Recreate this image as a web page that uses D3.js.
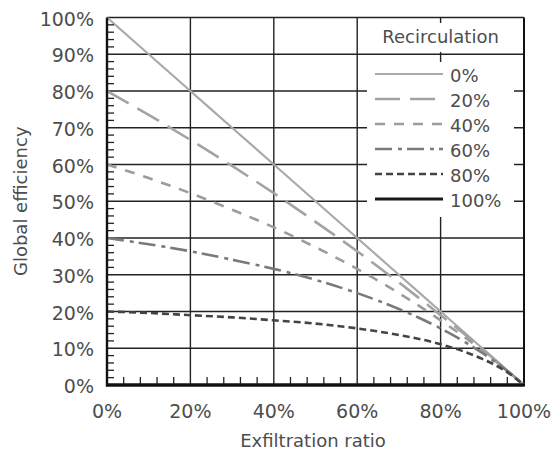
<!DOCTYPE html>
<html>
<head>
<meta charset="utf-8">
<script src="https://cdn.jsdelivr.net/npm/d3@7"></script>
<style>
  body { margin: 0; background: #fff; }
  text { font-family: "DejaVu Sans", sans-serif; font-size: 18px; fill: #4d4d4d; }
  .tick text { font-size: 19px; }
</style>
</head>
<body>
<script>
var xPct = [0, 10, 20, 30, 40, 50, 60, 70, 80, 90, 95, 100];

// global efficiency (%) for each recirculation level
var eff0   = [100, 90, 80, 70, 60, 50, 40, 30, 20, 10, 5, 0];
var eff20  = [80, 73.5, 66.7, 59.6, 52.2, 44.4, 36.4, 27.9, 19, 9.8, 4.9, 0];
var eff40  = [60, 56.3, 52.2, 47.7, 42.9, 37.5, 31.6, 25, 17.6, 9.4, 4.8, 0];
var eff60  = [40, 38.3, 36.4, 34.1, 31.6, 28.6, 25, 20.7, 15.4, 8.7, 4.7, 0];
var eff80  = [20, 19.6, 19, 18.4, 17.6, 16.7, 15.4, 13.6, 11.1, 7.1, 4.2, 0];
var eff100 = [0, 0, 0, 0, 0, 0, 0, 0, 0, 0, 0, 0];

var seriesNames = ["0%", "20%", "40%", "60%", "80%", "100%"];
var seriesValues = [eff0, eff20, eff40, eff60, eff80, eff100];

var xTicks = [0, 20, 40, 60, 80, 100];
var yTicks = [0, 10, 20, 30, 40, 50, 60, 70, 80, 90, 100];

// line look for each series
var styles = [
  {color: "#a9a9a9", width: 2.2, dash: null},
  {color: "#a3a3a3", width: 2.6, dash: "25,10"},
  {color: "#9c9c9c", width: 2.6, dash: "10,9"},
  {color: "#7a7a7a", width: 2.6, dash: "17,6,4,5"},
  {color: "#444444", width: 2.6, dash: "7,4"},
  {color: "#1a1a1a", width: 3, dash: null}
];

var width = 552, height = 452;
var svg = d3.select("body").append("svg")
  .attr("width", width)
  .attr("height", height);

var x = d3.scaleLinear().domain([0, 100]).range([107, 524]);
var y = d3.scaleLinear().domain([0, 100]).range([385, 17.5]);

// grid
var grid = svg.append("g").attr("class", "grid");
grid.selectAll("line.h")
  .data(yTicks.filter(function(d){ return d > 0; }))
  .enter().append("line")
  .attr("x1", x(0)).attr("x2", x(100))
  .attr("y1", function(d){ return y(d); })
  .attr("y2", function(d){ return y(d); })
  .attr("stroke", "#222").attr("stroke-width", 1.4);
grid.selectAll("line.v")
  .data(xTicks.filter(function(d){ return d > 0 && d < 100; }))
  .enter().append("line")
  .attr("x1", function(d){ return x(d); })
  .attr("x2", function(d){ return x(d); })
  .attr("y1", y(0)).attr("y2", y(100))
  .attr("stroke", "#222").attr("stroke-width", 1.4);
// right frame
grid.append("line")
  .attr("x1", x(100)).attr("x2", x(100))
  .attr("y1", y(0)).attr("y2", y(100))
  .attr("stroke", "#111").attr("stroke-width", 2);

// legend: white patches hide the grid behind the texts
var legend = svg.append("g").attr("class", "legend");
legend.append("rect")
  .attr("x", 359).attr("y", 23).attr("width", 164).attr("height", 29)
  .attr("fill", "#fff");
legend.append("rect")
  .attr("x", 367).attr("y", 62).attr("width", 147).attr("height", 155)
  .attr("fill", "#fff");
legend.append("text")
  .attr("x", x(80)).attr("y", 36)
  .attr("text-anchor", "middle")
  .attr("dominant-baseline", "central")
  .text("Recirculation");

var items = legend.selectAll("g.item")
  .data(seriesNames)
  .enter().append("g")
  .attr("transform", function(d, i){ return "translate(0," + (74 + i * 25) + ")"; });
items.append("line")
  .attr("x1", 375).attr("x2", 443)
  .attr("stroke", function(d, i){ return styles[i].color; })
  .attr("stroke-width", function(d, i){ return styles[i].width; })
  .attr("stroke-dasharray", function(d, i){ return styles[i].dash; });
items.append("text")
  .attr("x", 450).attr("y", 1)
  .attr("dominant-baseline", "central")
  .text(function(d){ return d; });

// curves
var line = d3.line()
  .x(function(d){ return x(d[0]); })
  .y(function(d){ return y(d[1]); })
  .curve(d3.curveMonotoneX);

svg.append("g").attr("class", "curves")
  .selectAll("path")
  .data(seriesValues)
  .enter().append("path")
  .attr("d", function(vals){ return line(xPct.map(function(p, j){ return [p, vals[j]]; })); })
  .attr("fill", "none")
  .attr("stroke", function(d, i){ return styles[i].color; })
  .attr("stroke-width", function(d, i){ return styles[i].width; })
  .attr("stroke-dasharray", function(d, i){ return styles[i].dash; });

// minor ticks, pointing inwards
var yMinor = d3.range(2, 100, 2).filter(function(d){ return d % 10 !== 0; });
var xMinor = d3.range(4, 100, 4).filter(function(d){ return d % 20 !== 0; });
svg.append("g").selectAll("line")
  .data(yMinor)
  .enter().append("line")
  .attr("x1", x(0)).attr("x2", x(0) + 7)
  .attr("y1", function(d){ return y(d); })
  .attr("y2", function(d){ return y(d); })
  .attr("stroke", "#222").attr("stroke-width", 1.3);
svg.append("g").selectAll("line")
  .data(xMinor)
  .enter().append("line")
  .attr("x1", function(d){ return x(d); })
  .attr("x2", function(d){ return x(d); })
  .attr("y1", y(0)).attr("y2", y(0) - 8)
  .attr("stroke", "#222").attr("stroke-width", 1.3);

// axes lines
svg.append("line")
  .attr("x1", x(0)).attr("x2", x(0))
  .attr("y1", y(0) + 1.5).attr("y2", y(100))
  .attr("stroke", "#111").attr("stroke-width", 2.4);
svg.append("line")
  .attr("x1", x(0) - 1).attr("x2", x(100) + 1)
  .attr("y1", y(0)).attr("y2", y(0))
  .attr("stroke", "#111").attr("stroke-width", 3);

// tick labels
svg.append("g").attr("class", "tick").selectAll("text")
  .data(yTicks)
  .enter().append("text")
  .attr("x", 94)
  .attr("y", function(d){ return y(d) + 1; })
  .attr("text-anchor", "end")
  .attr("dominant-baseline", "central")
  .text(function(d){ return d + "%"; });
svg.append("g").attr("class", "tick").selectAll("text")
  .data(xTicks)
  .enter().append("text")
  .attr("x", function(d){ return x(d); })
  .attr("y", 411)
  .attr("text-anchor", "middle")
  .attr("dominant-baseline", "central")
  .text(function(d){ return d + "%"; });

// axis titles
svg.append("text")
  .attr("x", 313).attr("y", 440)
  .attr("text-anchor", "middle")
  .attr("dominant-baseline", "central")
  .text("Exfiltration ratio");
svg.append("text")
  .attr("transform", "translate(20," + ((y(0) + y(100)) / 2) + ") rotate(-90)")
  .attr("text-anchor", "middle")
  .attr("dominant-baseline", "central")
  .text("Global efficiency");
</script>
</body>
</html>
